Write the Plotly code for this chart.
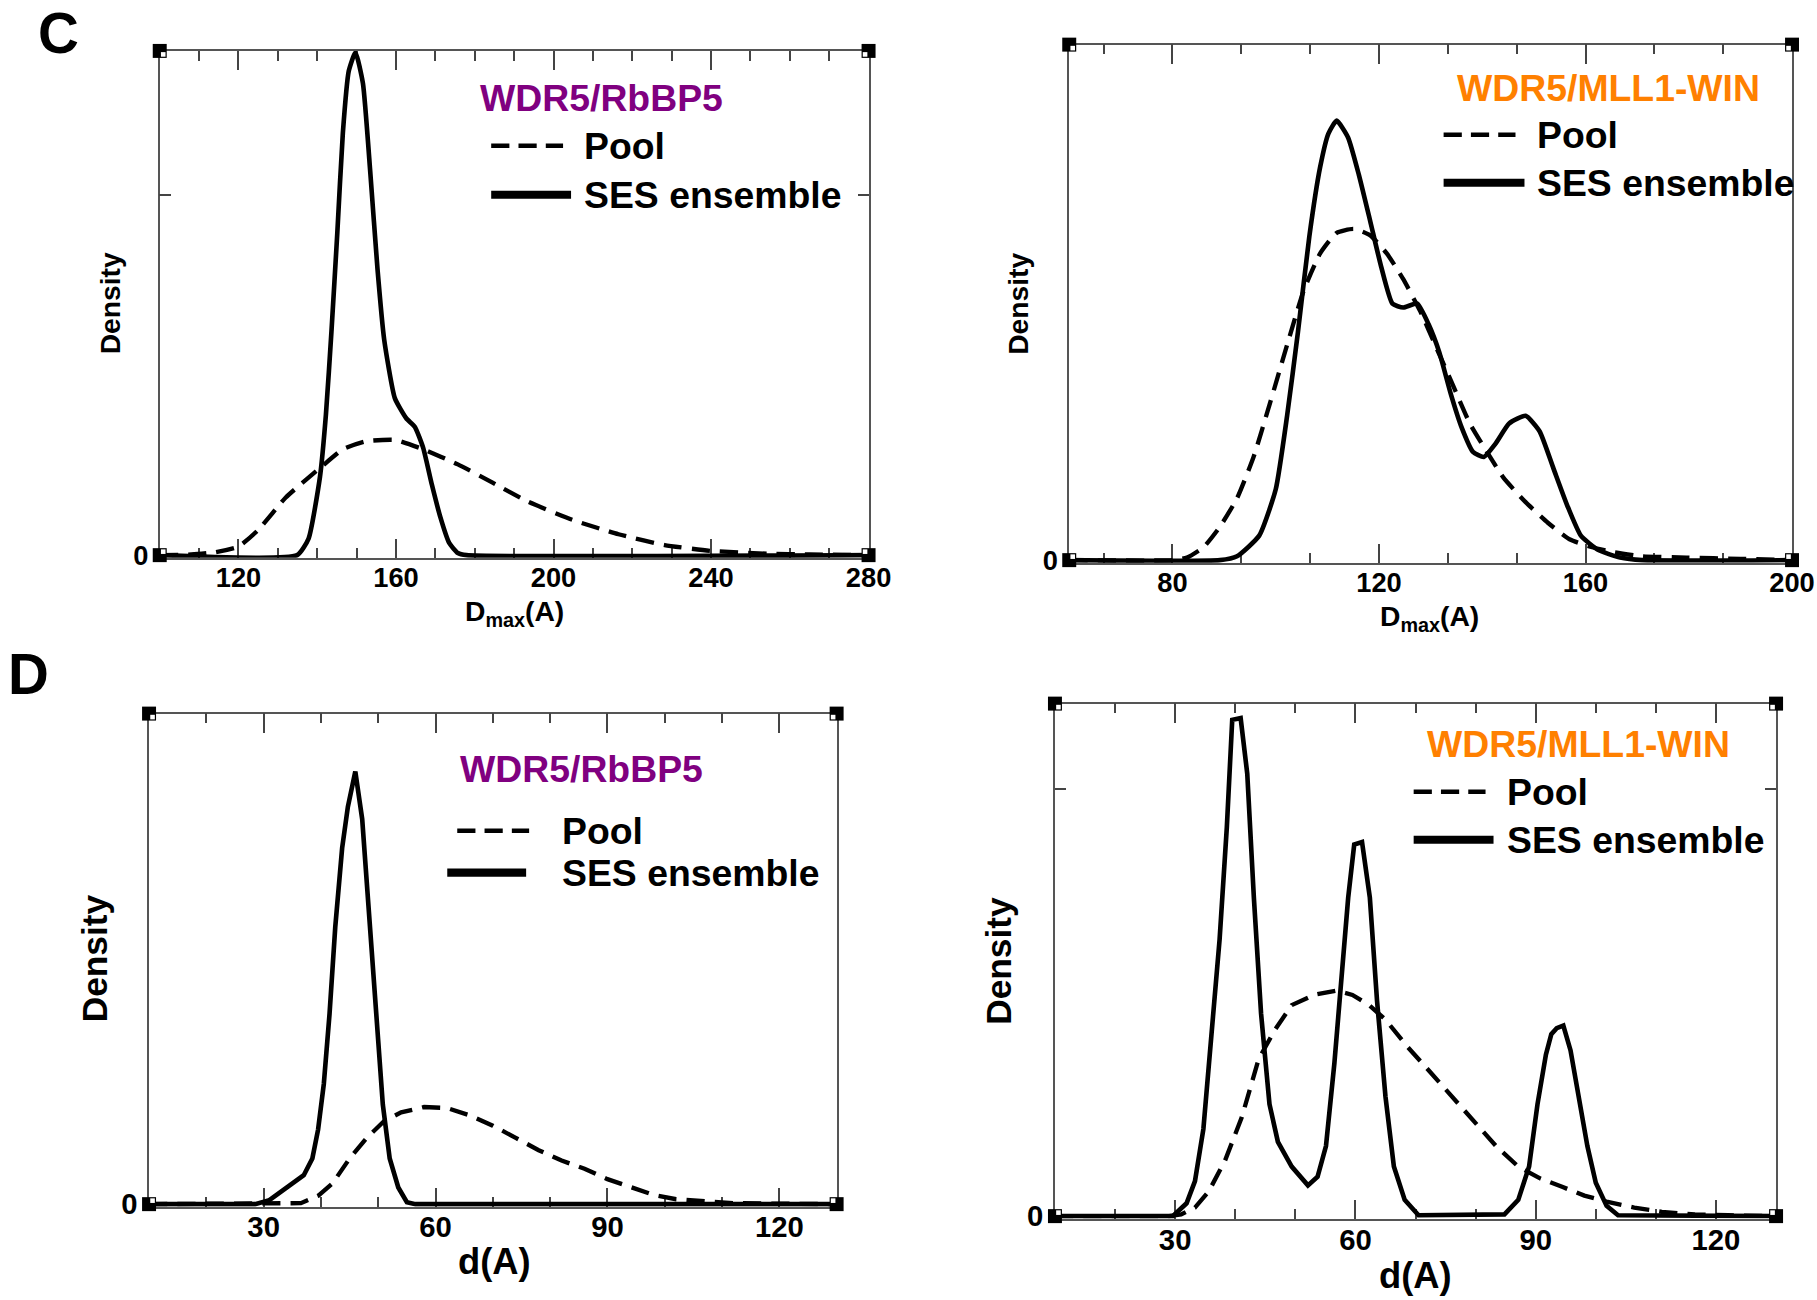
import plotly.graph_objects as go

# Layout is designed on a 1817 x 1300 pixel grid; KX / KY scale the canvas and
# K every absolute size (fonts, line widths, tick lengths).
W, H = 1817, 1300
KX, KY = 1.011, 1.009
K = (KX + KY) / 2
FONT = "Liberation Sans, Arial, Helvetica, sans-serif"
PURPLE = "#800080"
ORANGE = "#FF8000"

# ---- Panel C, left: WDR5/RbBP5, Dmax distribution ----
c1_pool_x = [100, 108, 114, 120, 125, 132, 140.7, 146.5, 152.4, 159.7, 166.9, 175.7,
             184.4, 193.2, 204.8, 216.5, 228.2, 239.8, 254.4, 265, 280]
c1_pool_y = [0, 0.0001, 0.0004, 0.0012, 0.0035, 0.008, 0.0121, 0.0147, 0.0158, 0.016,
             0.0147, 0.0126, 0.0101, 0.0075, 0.0049, 0.0029, 0.0014, 0.0006, 0.0002,
             0.0001, 0]
c1_ses_x = [100, 134.9, 137.8, 140.7, 142.2, 143.6, 145.1, 146.5, 148, 149.7, 151.6,
            153.5, 155.3, 157, 159.7, 162.6, 164.8, 166.9, 169.1, 171.3, 173.5, 175.7,
            177.9, 280]
c1_ses_y = [0, 0, 0.0023, 0.0109, 0.0195, 0.031, 0.0448, 0.0586, 0.0672, 0.0698, 0.0655,
            0.0529, 0.0397, 0.0299, 0.0218, 0.019, 0.0178, 0.0149, 0.0098, 0.0052,
            0.0017, 0.0003, 0, 0]

# ---- Panel C, right: WDR5/MLL1-WIN, Dmax distribution ----
c2_pool_x = [60, 80, 82.8, 86, 89.2, 92.5, 95.7, 98.9, 102.2, 105.4, 108.6, 111.8, 115.1,
             118.3, 121.5, 124.7, 128, 131.2, 134.4, 137.6, 140.9, 144.1, 148.4, 152.7,
             157, 161.3, 165.6, 171, 179.6, 190, 200]
c2_pool_y = [0, 0, 0.0002, 0.001, 0.0026, 0.0048, 0.008, 0.0122, 0.0167, 0.0209, 0.0238,
             0.0254, 0.0257, 0.0252, 0.0238, 0.0218, 0.0193, 0.0164, 0.0135, 0.0106,
             0.0084, 0.0064, 0.0045, 0.0029, 0.0016, 0.001, 0.0006, 0.0003, 0.0002,
             0.0001, 0]
c2_ses_x = [60, 89.2, 92.5, 96.8, 100, 102.2, 104.3, 106.5, 108.6, 110.2, 111.8, 114,
            116.1, 118.3, 120.4, 122.6, 124.7, 127.4, 129.6, 131.7, 133.9, 136, 138.2,
            140.3, 142.5, 145.2, 148.4, 151.1, 153.8, 156.5, 159.1, 162.4, 166.7, 171,
            200]
c2_ses_y = [0, 0, 0.0003, 0.0019, 0.0055, 0.0112, 0.0177, 0.0251, 0.0305, 0.0331, 0.0341,
            0.0328, 0.0299, 0.0263, 0.0228, 0.0199, 0.0196, 0.0199, 0.0183, 0.0161,
            0.0129, 0.0103, 0.0084, 0.008, 0.009, 0.0106, 0.0112, 0.01, 0.0071, 0.0042,
            0.0019, 0.0008, 0.0002, 0, 0]

# ---- Panel D, left: WDR5/RbBP5, distance distribution ----
d1_pool_x = [10, 36.5, 39.5, 42, 45, 48, 51, 54, 58, 62, 66, 70, 74, 78, 82, 86, 90, 94,
             98, 102, 107, 112, 120, 130]
d1_pool_y = [0, 0.0002, 0.0017, 0.0042, 0.0093, 0.0135, 0.0169, 0.0187, 0.0198, 0.0196,
             0.0181, 0.016, 0.0135, 0.011, 0.0089, 0.0072, 0.0051, 0.0034, 0.0019, 0.001,
             0.0005, 0.0002, 0.0001, 0]
d1_ses_x = [10, 28.5, 31, 34, 37, 38.5, 39.5, 40.5, 41.5, 42.5, 43.7, 44.7, 46, 47.2,
            48.5, 49.5, 50.8, 52, 53.5, 55, 56.5, 130]
d1_ses_y = [0, 0, 0.0008, 0.0034, 0.0059, 0.0093, 0.0152, 0.0245, 0.0388, 0.0565, 0.0726,
            0.081, 0.0882, 0.0785, 0.0582, 0.0397, 0.0203, 0.0093, 0.0034, 0.0004, 0, 0]

# ---- Panel D, right: WDR5/MLL1-WIN, distance distribution ----
d2_pool_x = [10, 29, 31, 33.3, 35.6, 38.3, 41.1, 43.9, 46.6, 49.4, 53.1, 56.8, 59.5, 62.3,
             65, 68.7, 72.4, 76.1, 79.7, 83.4, 87.1, 90.8, 94.5, 98.1, 101.8, 106.4, 111,
             116.5, 122, 130]
d2_pool_y = [0, 0, 0.0002, 0.001, 0.0029, 0.0065, 0.0116, 0.0184, 0.0218, 0.0247, 0.0259,
             0.0264, 0.0259, 0.0247, 0.023, 0.0198, 0.0169, 0.014, 0.0111, 0.0082,
             0.0058, 0.0044, 0.0034, 0.0024, 0.0017, 0.001, 0.0005, 0.0002, 0.0001, 0]
d2_ses_x = [10, 29.6, 31.9, 33.3, 34.7, 36, 37.4, 38.6, 39.5, 40.9, 42, 43.1, 44.3, 45.7,
            47.1, 49.4, 52.1, 53.7, 55.1, 56.5, 57.7, 58.8, 59.8, 61.1, 62.4, 63.6, 65,
            66.4, 68.2, 70.5, 84.8, 87.1, 88.9, 90.3, 91.7, 92.6, 93.5, 94.6, 95.8, 97.2,
            98.6, 100, 101.8, 103.7, 130]
d2_ses_y = [0, 0, 0.0015, 0.0041, 0.0102, 0.0203, 0.0324, 0.0455, 0.0581, 0.0583, 0.0518,
            0.0373, 0.0237, 0.0131, 0.0087, 0.0058, 0.0036, 0.0046, 0.0082, 0.0179, 0.0285,
            0.0373, 0.0435, 0.0438, 0.0373, 0.0252, 0.014, 0.0058, 0.0019, 0.0001, 0.0002,
            0.0019, 0.0058, 0.0131, 0.0189, 0.0213, 0.022, 0.0223, 0.0194, 0.014, 0.0082,
            0.0039, 0.0012, 0.0001, 0]

# Panel layout: frame in pixels (left, right, top, bottom), axis settings and labels
panels = [
    dict(frame=(160, 870, 51, 556), xr=(100, 280), dtick=40, minor=10, ymax=0.07,
         ymarks=[0.05], pool=(c1_pool_x, c1_pool_y), ses=(c1_ses_x, c1_ses_y),
         shape="spline", tick_size=27, tick_shift=-5,
         title="WDR5/RbBP5", tcolor=PURPLE, title_xy=(602, 98),
         leg_dash=(492, 564, 146), leg_solid=(492, 572, 195), leg_text_x=583,
         dens_xy=(110, 304), dens_size=28,
         xlab="D<sub>max</sub>(A)", xlab_xy=(515, 614), xlab_size=28),
    dict(frame=(1071, 1795, 44.7, 561), xr=(60, 200), dtick=40, minor=40 / 3, ymax=0.04,
         ymarks=[], pool=(c2_pool_x, c2_pool_y), ses=(c2_ses_x, c2_ses_y),
         shape="spline", tick_size=27, tick_shift=-5,
         title="WDR5/MLL1-WIN", tcolor=ORANGE, title_xy=(1611, 88),
         leg_dash=(1446, 1518, 135), leg_solid=(1446, 1527, 183), leg_text_x=1538,
         dens_xy=(1019, 304), dens_size=28,
         xlab="D<sub>max</sub>(A)", xlab_xy=(1432, 619), xlab_size=28),
    dict(frame=(149.3, 838, 714.7, 1206), xr=(10, 130), dtick=30, minor=10, ymax=0.1,
         ymarks=[], pool=(d1_pool_x, d1_pool_y), ses=(d1_ses_x, d1_ses_y),
         shape="linear", tick_size=29, tick_shift=-7,
         title="WDR5/RbBP5", tcolor=PURPLE, title_xy=(582, 770),
         leg_dash=(458, 530, 832), leg_solid=(448, 527, 874), leg_text_x=561,
         dens_xy=(95, 960), dens_size=35,
         xlab="d(A)", xlab_xy=(495, 1263), xlab_size=36),
    dict(frame=(1056.7, 1779, 704.7, 1218), xr=(10, 130), dtick=30, minor=10, ymax=0.06,
         ymarks=[0.05], pool=(d2_pool_x, d2_pool_y), ses=(d2_ses_x, d2_ses_y),
         shape="linear", tick_size=29, tick_shift=-6,
         title="WDR5/MLL1-WIN", tcolor=ORANGE, title_xy=(1581, 745),
         leg_dash=(1416, 1488, 793), leg_solid=(1416, 1496, 841), leg_text_x=1507,
         dens_xy=(1000, 962), dens_size=35,
         xlab="d(A)", xlab_xy=(1418, 1277), xlab_size=36),
]


def px(x):
    return x / W


def py(y):
    return 1 - y / H


fig = go.Figure()
shapes = []
annotations = []
layout_axes = {}

for i, p in enumerate(panels, start=1):
    L, R, T, B = p["frame"]
    # the zero baseline sits a couple of pixels above the plot bottom so the
    # thick curves running along zero are not clipped in half
    pad = 2.5
    ymax = p["ymax"]
    ymin = -ymax * pad / (B - T)
    xa = "x" if i == 1 else f"x{i}"
    ya = "y" if i == 1 else f"y{i}"
    xkey = "xaxis" if i == 1 else f"xaxis{i}"
    ykey = "yaxis" if i == 1 else f"yaxis{i}"

    fig.add_trace(go.Scatter(x=p["pool"][0], y=p["pool"][1], mode="lines", xaxis=xa, yaxis=ya,
                             line=dict(color="black", width=4.3 * K,
                                       dash=f"{18 * K:.1f}px,{10 * K:.1f}px",
                                       shape=p["shape"], smoothing=0.5),
                             showlegend=False, hoverinfo="skip"))
    fig.add_trace(go.Scatter(x=p["ses"][0], y=p["ses"][1], mode="lines", xaxis=xa, yaxis=ya,
                             line=dict(color="black", width=4.6 * K, shape=p["shape"],
                                       smoothing=0.5),
                             showlegend=False, hoverinfo="skip"))

    common = dict(showline=True, linecolor="#555", linewidth=1.5 * K, mirror="ticks",
                  ticks="inside", tickcolor="#444", tickwidth=1.5 * K, showgrid=False,
                  zeroline=False, layer="below traces",
                  tickfont=dict(family=FONT, size=p["tick_size"] * K, color="black",
                                weight="bold"))
    layout_axes[xkey] = dict(common, domain=[px(L), px(R)], range=list(p["xr"]),
                             anchor=ya, tickmode="linear", tick0=0, dtick=p["dtick"],
                             ticklen=19 * K, ticklabelstandoff=round(p["tick_shift"] * K),
                             minor=dict(ticks="inside", ticklen=10 * K, tickwidth=1.5 * K,
                                        tickcolor="#444", tick0=0, dtick=p["minor"]))
    # only the zero level carries a label; further density levels get bare tick marks
    ymin_ticks = dict(ticks="inside", ticklen=11 * K, tickwidth=1.5 * K, tickcolor="#444",
                      tickmode="array", tickvals=p["ymarks"]) if p["ymarks"] else dict(ticks="")
    layout_axes[ykey] = dict(common, domain=[py(B + pad), py(T)], range=[ymin, ymax],
                             anchor=xa, tickmode="array", tickvals=[0], ticktext=["0"],
                             ticklen=11 * K, ticklabelstandoff=4, minor=ymin_ticks)

    # corner markers of the frame
    for (cx, cy, dx, dy) in [(L, T, 1, 1), (R, T, -1, 1), (L, B, 1, -1), (R, B, -1, -1)]:
        shapes.append(dict(type="rect", xref="paper", yref="paper", layer="above",
                           x0=px(cx - 7), x1=px(cx + 7), y0=py(cy - 7), y1=py(cy + 7),
                           fillcolor="black", line=dict(width=0)))
        shapes.append(dict(type="rect", xref="paper", yref="paper", layer="above",
                           x0=px(cx + dx * 1.2), x1=px(cx + dx * 5.8),
                           y0=py(cy + dy * 1.2), y1=py(cy + dy * 5.8),
                           fillcolor="white", line=dict(width=0)))

    # legend keys
    x0, x1, yy = p["leg_dash"]
    shapes.append(dict(type="line", xref="paper", yref="paper", x0=px(x0), x1=px(x1),
                       y0=py(yy), y1=py(yy),
                       line=dict(color="black", width=4.3 * K,
                                 dash=f"{18 * K:.1f}px,{9 * K:.1f}px")))
    x0, x1, yy = p["leg_solid"]
    shapes.append(dict(type="line", xref="paper", yref="paper", x0=px(x0), x1=px(x1),
                       y0=py(yy), y1=py(yy), line=dict(color="black", width=8 * K)))

    big = dict(family=FONT, size=37 * K, color="black", weight="bold")
    annotations.append(dict(text="Pool", x=px(p["leg_text_x"]), y=py(p["leg_dash"][2]),
                            xref="paper", yref="paper", xanchor="left", yanchor="middle",
                            showarrow=False, font=big))
    annotations.append(dict(text="SES ensemble", x=px(p["leg_text_x"]), y=py(p["leg_solid"][2]),
                            xref="paper", yref="paper", xanchor="left", yanchor="middle",
                            showarrow=False, font=big))
    annotations.append(dict(text=p["title"], x=px(p["title_xy"][0]), y=py(p["title_xy"][1]),
                            xref="paper", yref="paper", xanchor="center", yanchor="middle",
                            showarrow=False, font=dict(big, color=p["tcolor"])))
    annotations.append(dict(text="Density", x=px(p["dens_xy"][0]), y=py(p["dens_xy"][1]),
                            xref="paper", yref="paper", xanchor="center", yanchor="middle",
                            textangle=-90, showarrow=False,
                            font=dict(family=FONT, size=p["dens_size"] * K, color="black",
                                      weight="bold")))
    annotations.append(dict(text=p["xlab"], x=px(p["xlab_xy"][0]), y=py(p["xlab_xy"][1]),
                            xref="paper", yref="paper", xanchor="center", yanchor="middle",
                            showarrow=False,
                            font=dict(family=FONT, size=p["xlab_size"] * K, color="black",
                                      weight="bold")))

# panel letters
for letter, (lx, ly) in [("C", (59, 34)), ("D", (29, 676))]:
    annotations.append(dict(text=letter, x=px(lx), y=py(ly), xref="paper", yref="paper",
                            xanchor="center", yanchor="middle", showarrow=False,
                            font=dict(family=FONT, size=56 * K, color="black", weight="bold")))

fig.update_layout(width=round(W * KX), height=round(H * KY), margin=dict(l=0, r=0, t=0, b=0),
                  paper_bgcolor="white", plot_bgcolor="white", showlegend=False,
                  shapes=shapes, annotations=annotations, **layout_axes)

fig.write_html("out.html", include_plotlyjs=True, full_html=True,
               config=dict(displayModeBar=False))
